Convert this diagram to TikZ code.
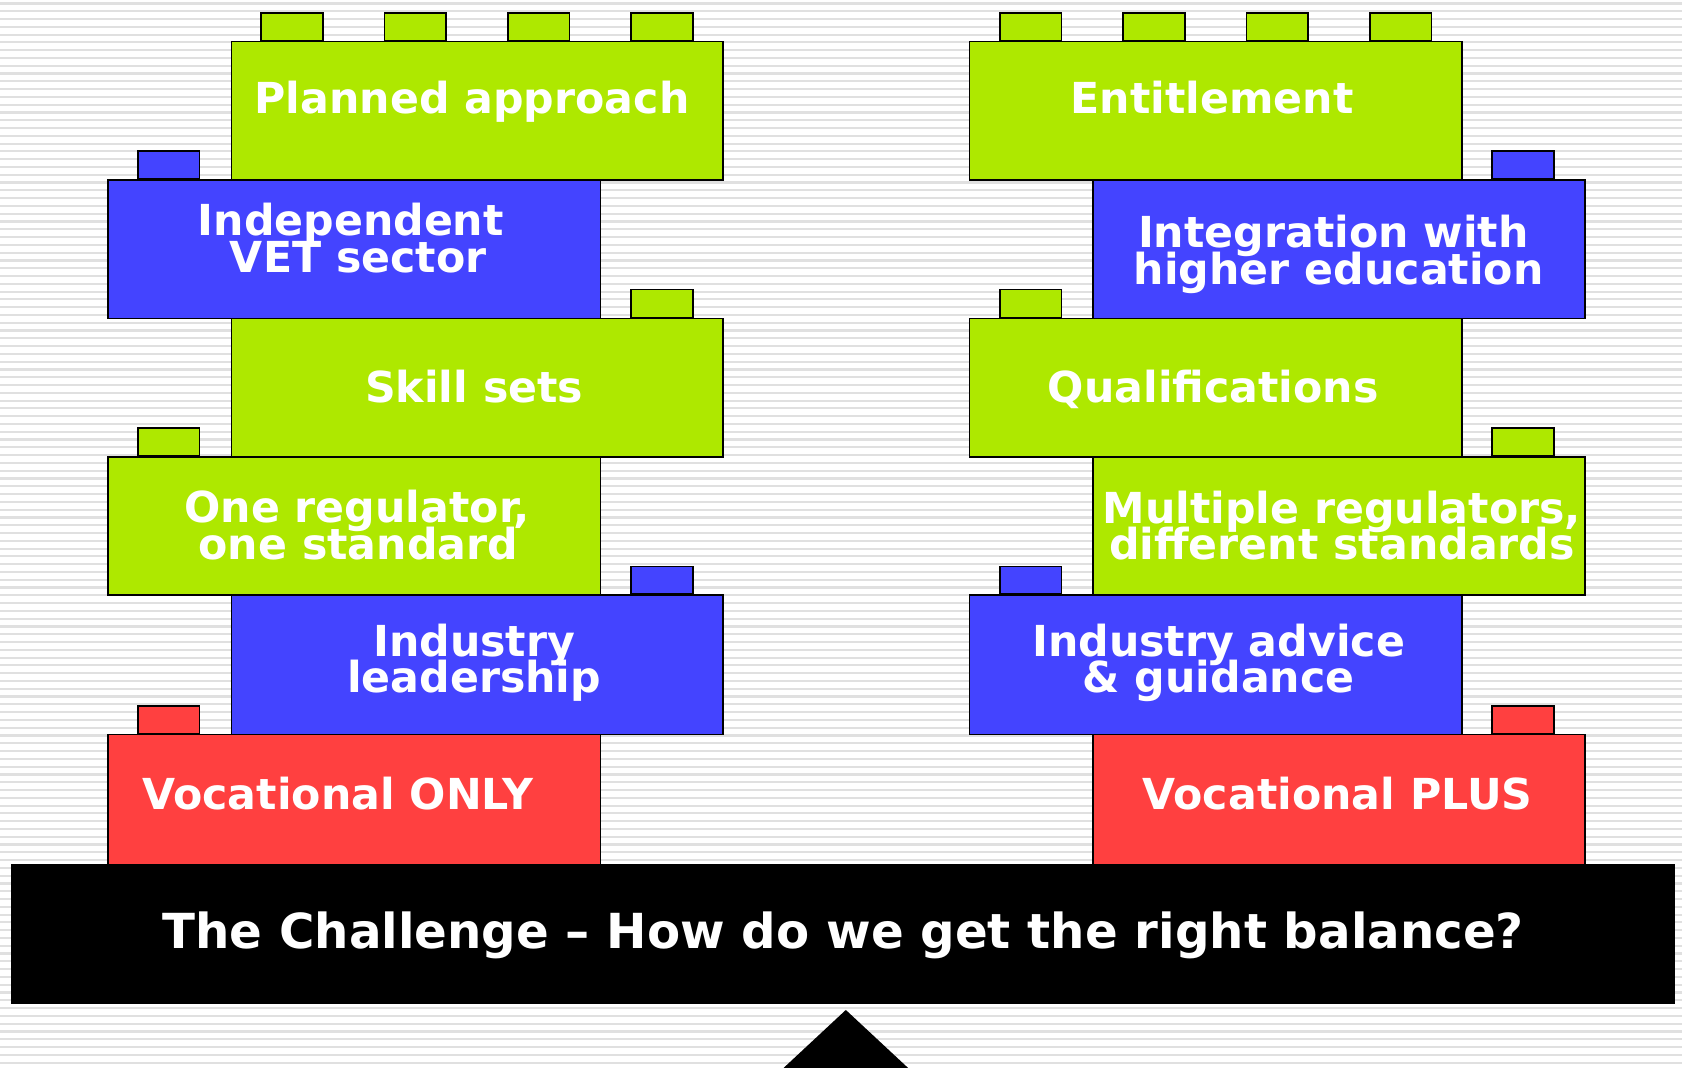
\documentclass[tikz,border=0pt]{standalone}
\usepackage{fontspec}
\setmainfont{DejaVu Sans}
\definecolor{lgreen}{RGB}{174,232,0}
\definecolor{lblue}{RGB}{68,68,255}
\definecolor{lred}{RGB}{255,64,64}
\definecolor{stripe}{RGB}{224,224,224}
\begin{document}
\begin{tikzpicture}[x=1pt,y=-1pt,
  brick/.style={draw=black,line width=1.6pt,rectangle,inner sep=0pt,anchor=north west},
  blbl/.style={text=white,font=\fontsize{39.8}{34}\selectfont\bfseries,anchor=base,inner sep=0pt},
  barlbl/.style={text=white,font=\fontsize{45}{40}\selectfont\bfseries,anchor=base,inner sep=0pt}]
\useasboundingbox (0,0) rectangle (1568,995);
\fill[white] (0,0) rectangle (1568,995);
% background stripes
\foreach \i in {0,...,137} {
  \draw[stripe,line width=2pt] (0,{3.2+7.26*\i}) -- (1568,{3.2+7.26*\i});
}
% studs (drawn first)
\def\stud#1#2#3{\filldraw[fill=#3,draw=black,line width=1.6pt] (#1,#2) rectangle ++(57.5,26);}
\foreach \x in {243.5,358.5,473.5,588.5} {\stud{\x}{12}{lgreen}}
\stud{128.5}{141}{lblue}
\stud{588.5}{270}{lgreen}
\stud{128.5}{399}{lgreen}
\stud{588.5}{528}{lblue}
\stud{128.5}{658}{lred}
\foreach \x in {932,1047,1162,1277} {\stud{\x}{12}{lgreen}}
\stud{1391}{141}{lblue}
\stud{932}{270}{lgreen}
\stud{1391}{399}{lgreen}
\stud{932}{528}{lblue}
\stud{1391}{658}{lred}
% left bricks
\node[brick,fill=lgreen,minimum width=458pt,minimum height=129pt] (L1) at (215,38) {};
\node[brick,fill=lblue,minimum width=459pt,minimum height=129pt] (L2) at (100,167) {};
\node[brick,fill=lgreen,minimum width=458pt,minimum height=129pt] (L3) at (215,296) {};
\node[brick,fill=lgreen,minimum width=459pt,minimum height=129pt] (L4) at (100,425) {};
\node[brick,fill=lblue,minimum width=458pt,minimum height=130pt] (L5) at (215,554) {};
\node[brick,fill=lred,minimum width=459pt,minimum height=128pt] (L6) at (100,684) {};
% right bricks
\node[brick,fill=lgreen,minimum width=459pt,minimum height=129pt] (R1) at (903,38) {};
\node[brick,fill=lblue,minimum width=459pt,minimum height=129pt] (R2) at (1018,167) {};
\node[brick,fill=lgreen,minimum width=459pt,minimum height=129pt] (R3) at (903,296) {};
\node[brick,fill=lgreen,minimum width=459pt,minimum height=129pt] (R4) at (1018,425) {};
\node[brick,fill=lblue,minimum width=459pt,minimum height=130pt] (R5) at (903,554) {};
\node[brick,fill=lred,minimum width=459pt,minimum height=128pt] (R6) at (1018,684) {};
% labels
\node[blbl] (tL1) at (440,106) {Planned approach};
\node[blbl] (tL2a) at (327,220) {Independent};
\node[blbl] (tL2b) at (334,254) {VET sector};
\node[blbl] (tL3) at (442,375) {Skill sets};
\node[blbl] (tL4a) at (333,487) {One regulator,};
\node[blbl] (tL4b) at (334,522) {one standard};
\node[blbl] (tL5a) at (442,612) {Industry};
\node[blbl] (tL5b) at (442,646) {leadership};
\node[blbl] (tL6) at (315,755) {Vocational ONLY};
\node[blbl] (tR1) at (1130,106) {Entitlement};
\node[blbl] (tR2a) at (1243,231) {Integration with};
\node[blbl] (tR2b) at (1248,265) {higher education};
\node[blbl] (tR3) at (1131,375) {Qualifications};
\node[blbl] (tR4a) at (1251,488) {Multiple regulators,};
\node[blbl] (tR4b) at (1251,522) {different standards};
\node[blbl] (tR5a) at (1136,612) {Industry advice};
\node[blbl] (tR5b) at (1136,646) {\& guidance};
\node[blbl] (tR6) at (1247,755) {Vocational PLUS};
% bar
\node[brick,fill=black,draw=none,minimum width=1552pt,minimum height=130pt] (bar) at (9,805) {};
\node[barlbl] (tbar) at (786,884) {The Challenge – How do we get the right balance?};
% fulcrum
\coordinate (apex) at (788.5,941.5);
\fill[black] (apex) -- (847,996) -- (730,996) -- cycle;
\end{tikzpicture}
\end{document}
